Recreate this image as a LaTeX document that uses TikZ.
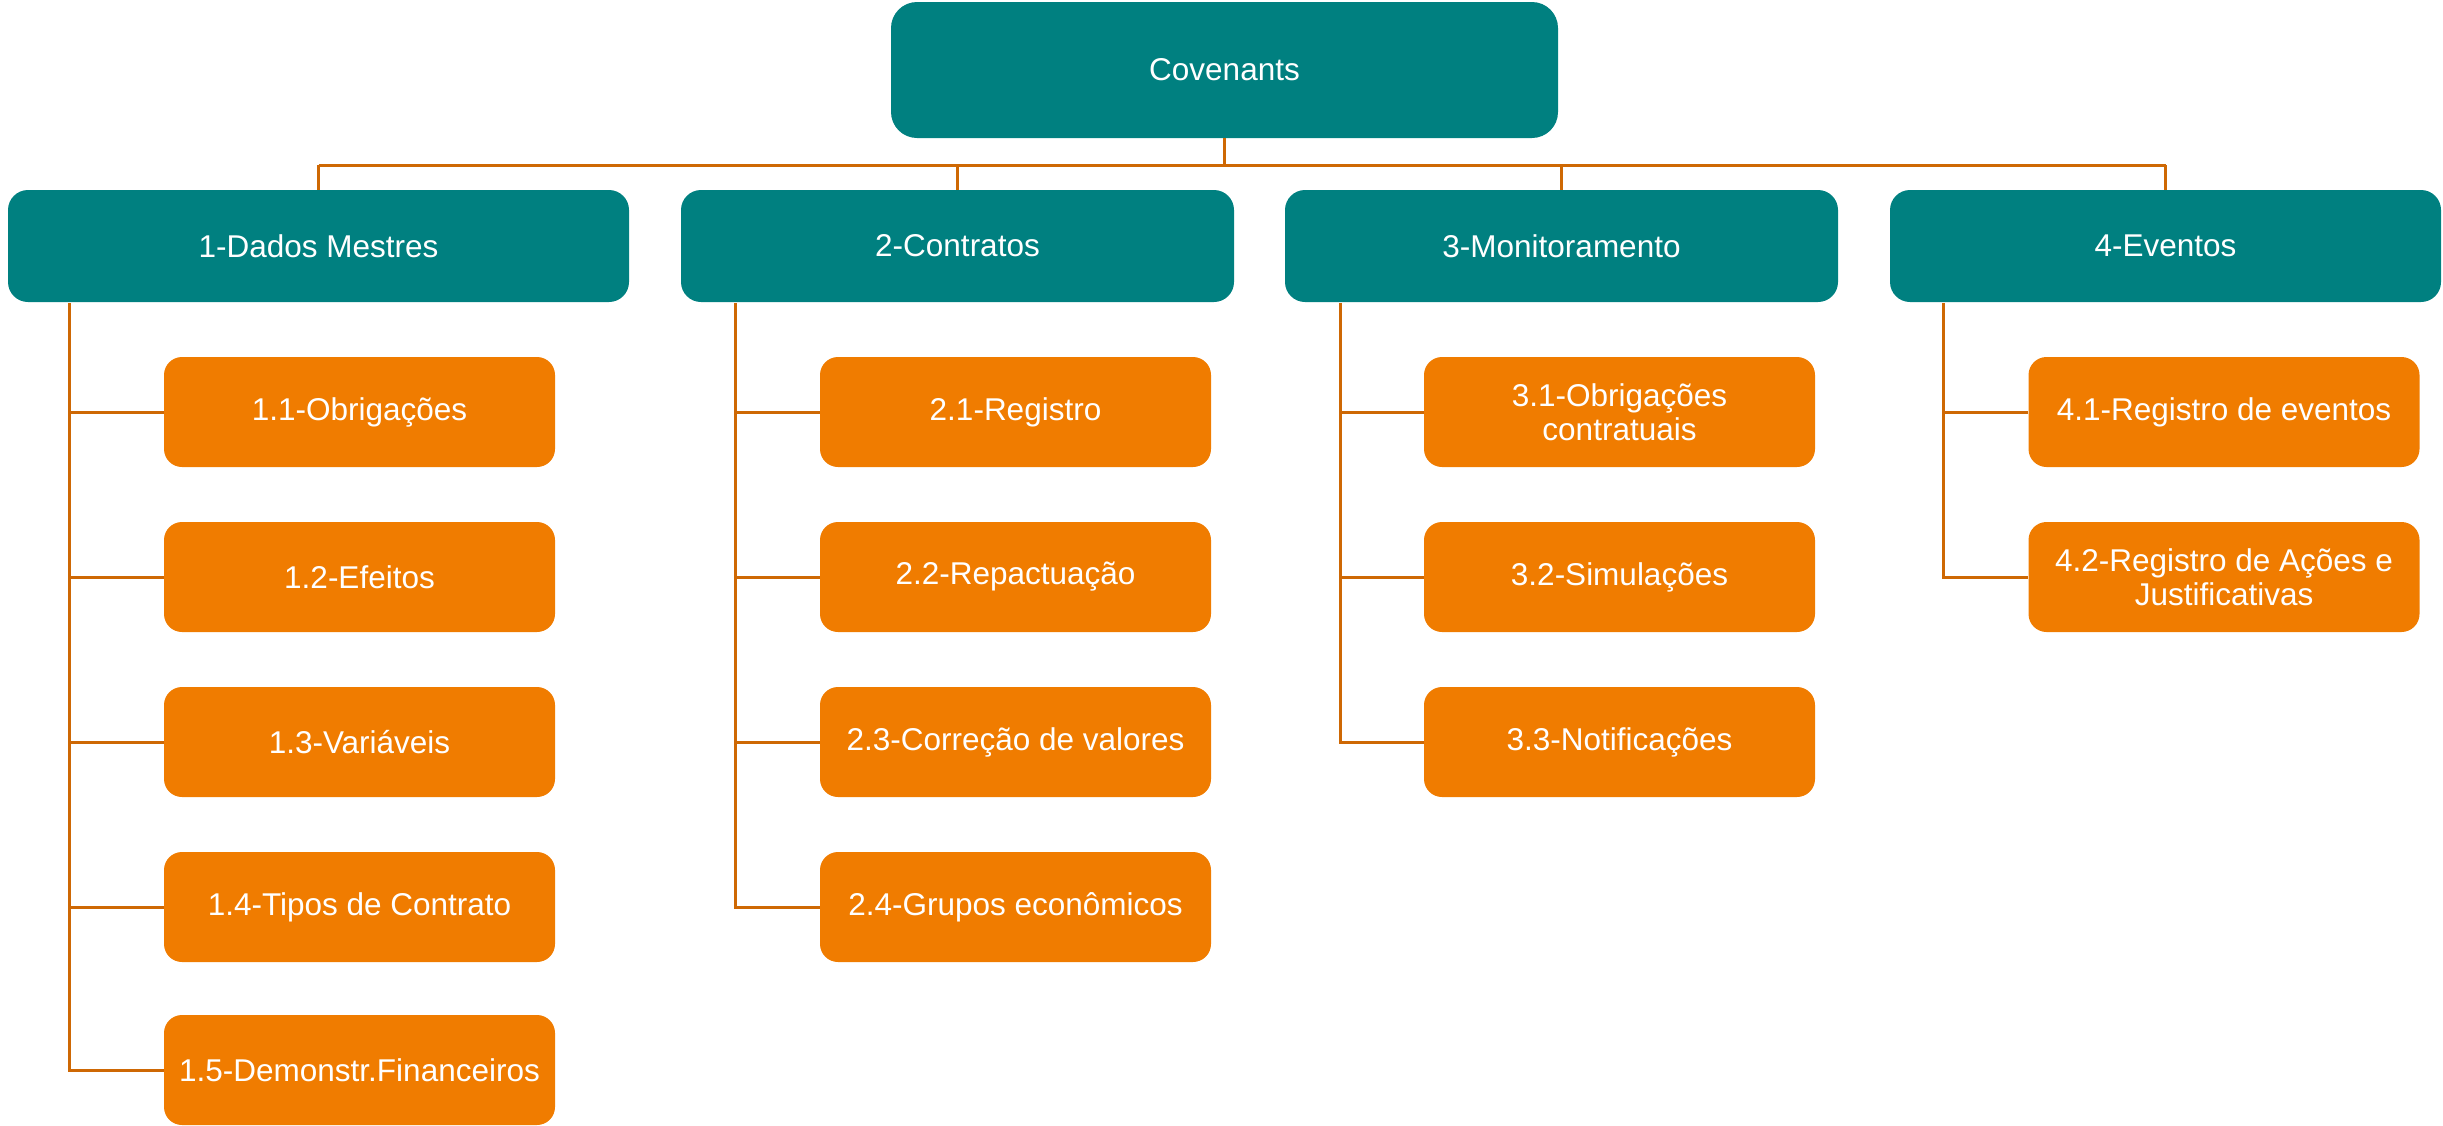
\documentclass[tikz,border=0pt]{standalone}
\usepackage{fontspec}
\setmainfont{Liberation Sans}
\definecolor{tealbox}{RGB}{0,128,128}
\definecolor{orangebox}{RGB}{240,124,0}
\definecolor{linkcol}{RGB}{206,104,4}
\begin{document}
\begin{tikzpicture}[x=1pt,y=-1pt,
  base/.style={rectangle, text=white, align=center, inner sep=0pt,
    font=\fontsize{31.5}{34}\selectfont},
  rootbox/.style={base, fill=tealbox, rounded corners=26pt, minimum width=667pt, minimum height=136pt},
  topbox/.style={base, fill=tealbox, rounded corners=20pt, minimum width=#1, minimum height=112pt},
  childbox/.style={base, fill=orangebox, rounded corners=18pt, minimum width=391pt, minimum height=110pt},
  link/.style={draw=linkcol, line width=3pt}
]
\path[use as bounding box] (0,0) rectangle (2443,1125);

% root
\node[rootbox] (cov) at (1224.5,70) {Covenants};

% level 1
\node[topbox=621pt] (d1) at (318.5,246) {1-Dados Mestres};
\node[topbox=553pt] (d2) at (957.5,246) {2-Contratos};
\node[topbox=553pt] (d3) at (1561.5,246) {3-Monitoramento};
\node[topbox=551pt] (d4) at (2165.5,246) {4-Eventos};

% column 1
\node[childbox] (c11) at (359.5,412) {1.1-Obrigações};
\node[childbox] (c12) at (359.5,577) {1.2-Efeitos};
\node[childbox] (c13) at (359.5,742) {1.3-Variáveis};
\node[childbox] (c14) at (359.5,907) {1.4-Tipos de Contrato};
\node[childbox] (c15) at (359.5,1070) {1.5-Demonstr.Financeiros};

% column 2
\node[childbox] (c21) at (1015.5,412) {2.1-Registro};
\node[childbox] (c22) at (1015.5,577) {2.2-Repactuação};
\node[childbox] (c23) at (1015.5,742) {2.3-Correção de valores};
\node[childbox] (c24) at (1015.5,907) {2.4-Grupos econômicos};

% column 3
\node[childbox] (c31) at (1619.5,412) {3.1-Obrigações\\contratuais};
\node[childbox] (c32) at (1619.5,577) {3.2-Simulações};
\node[childbox] (c33) at (1619.5,742) {3.3-Notificações};

% column 4
\node[childbox] (c41) at (2224,412) {4.1-Registro de eventos};
\node[childbox] (c42) at (2224,577) {4.2-Registro de Ações e\\Justificativas};

% bus
\coordinate (bus) at (0,165);
\draw[link] (cov.south) -- (cov.south |- bus);
\draw[link] (d1.north |- bus) -- (d4.north |- bus);
\foreach \n in {d1,d2,d3,d4}{
  \draw[link] (\n.north |- bus) -- (\n.north);
}

% spines
\coordinate (s1) at (69,303);
\coordinate (s2) at (735,303);
\coordinate (s3) at (1340,303);
\coordinate (s4) at (1943,303);

\draw[link] (s1) |- (c15.west);
\foreach \n in {c11,c12,c13,c14}{ \draw[link] (\n.west) -- (\n.west -| s1); }

\draw[link] (s2) |- (c24.west);
\foreach \n in {c21,c22,c23}{ \draw[link] (\n.west) -- (\n.west -| s2); }

\draw[link] (s3) |- (c33.west);
\foreach \n in {c31,c32}{ \draw[link] (\n.west) -- (\n.west -| s3); }

\draw[link] (s4) |- (c42.west);
\draw[link] (c41.west) -- (c41.west -| s4);
\end{tikzpicture}
\end{document}
